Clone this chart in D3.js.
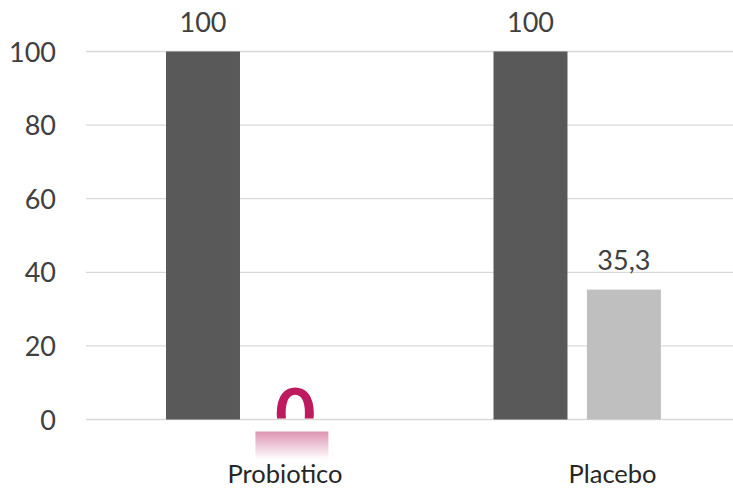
<!DOCTYPE html>
<html>
<head>
<meta charset="utf-8">
<script src="https://cdn.jsdelivr.net/npm/d3@7/dist/d3.min.js"></script>
<style>
  html, body { margin: 0; padding: 0; background: #fff; }
  svg { display: block; }
  text { font-family: Lato, "Open Sans", sans-serif; }
</style>
</head>
<body>
<svg id="chart" width="733" height="489"></svg>
<script>
// Chart data
const categories = ["Probiotico", "Placebo"];
const series = ["A", "B"];
const valuesA = [100, 100];
const valuesB = [0, 35.3];
const yTicks = [0, 20, 40, 60, 80, 100];
const valueLabelsA = ["100", "100"];
const valueLabelsB = ["0", "35,3"];

const svg = d3.select("#chart");
const W = 733, H = 489;

const y = d3.scaleLinear().domain([0, 100]).range([419.5, 51.5]);
const x0 = d3.scaleBand().domain(categories).range([86, 741]).padding(0);
const x1 = d3.scaleBand().domain(series).range([80, 247.4]).paddingInner(0.208);

const colors = { A: "#595959", B: "#bfbfbf" };
const pink = "#be1a5f";

// Gridlines
svg.append("g")
  .selectAll("line")
  .data(yTicks)
  .join("line")
  .attr("x1", 86).attr("x2", W)
  .attr("y1", d => y(d)).attr("y2", d => y(d))
  .attr("stroke", "#d9d9d9").attr("stroke-width", 1.3);

// Y axis labels
svg.append("g")
  .selectAll("text")
  .data(yTicks)
  .join("text")
  .attr("x", 56)
  .attr("y", d => y(d) + 10)
  .attr("text-anchor", "end")
  .attr("font-size", 27)
  .attr("fill", "#404040")
  .text(d => d);

const rows = categories.map((c, i) => ({
  cat: c,
  items: [
    { s: "A", v: valuesA[i], label: valueLabelsA[i] },
    { s: "B", v: valuesB[i], label: valueLabelsB[i] }
  ]
}));

const defs = svg.append("defs");
const grad = defs.append("linearGradient")
  .attr("id", "pinkFade").attr("x1", 0).attr("x2", 0).attr("y1", 0).attr("y2", 1);
grad.append("stop").attr("offset", "0%").attr("stop-color", "#dd94b2");
grad.append("stop").attr("offset", "100%").attr("stop-color", "#ffffff");
defs.append("clipPath").attr("id", "aboveBase")
  .append("rect").attr("x", 0).attr("y", 0).attr("width", W).attr("height", y(0) - 1);

const groups = svg.append("g")
  .selectAll("g")
  .data(rows)
  .join("g")
  .attr("transform", d => `translate(${x0(d.cat)},0)`);

// Bars
groups.selectAll("rect.bar")
  .data(d => d.items.filter(it => it.v > 0))
  .join("rect")
  .attr("class", "bar")
  .attr("x", d => x1(d.s))
  .attr("width", x1.bandwidth())
  .attr("y", d => y(d.v))
  .attr("height", d => y(0) - y(d.v))
  .attr("fill", d => colors[d.s]);

// Value labels for non-zero bars
groups.selectAll("text.val")
  .data(d => d.items.filter(it => it.v > 0))
  .join("text")
  .attr("class", "val")
  .attr("x", d => x1(d.s) + x1.bandwidth() / 2)
  .attr("y", d => y(d.v) - 20)
  .attr("text-anchor", "middle")
  .attr("font-size", 27)
  .attr("fill", "#404040")
  .text(d => d.label);

// Zero-value highlight: faded pink band under the baseline and a large pink "0"
const zeroItems = groups.selectAll("g.zero")
  .data(d => d.items.filter(it => it.v === 0))
  .join("g")
  .attr("class", "zero");

zeroItems.append("rect")
  .attr("x", d => x1(d.s) - 4)
  .attr("width", x1.bandwidth() - 1)
  .attr("y", y(0) + 12)
  .attr("height", 28)
  .attr("fill", "url(#pinkFade)");

zeroItems.append("text")
  .attr("clip-path", "url(#aboveBase)")
  .attr("x", d => x1(d.s) + x1.bandwidth() / 2 - 1)
  .attr("y", y(0) + 19)
  .attr("text-anchor", "middle")
  .attr("font-size", 70)
  .attr("font-weight", "bold")
  .attr("fill", pink)
  .text(d => d.label);

// Category labels
svg.append("g")
  .selectAll("text")
  .data(categories)
  .join("text")
  .attr("x", d => x0(d) + 199)
  .attr("y", 483)
  .attr("text-anchor", "middle")
  .attr("font-size", 25.5)
  .attr("fill", "#262626")
  .text(d => d);
</script>
</body>
</html>
